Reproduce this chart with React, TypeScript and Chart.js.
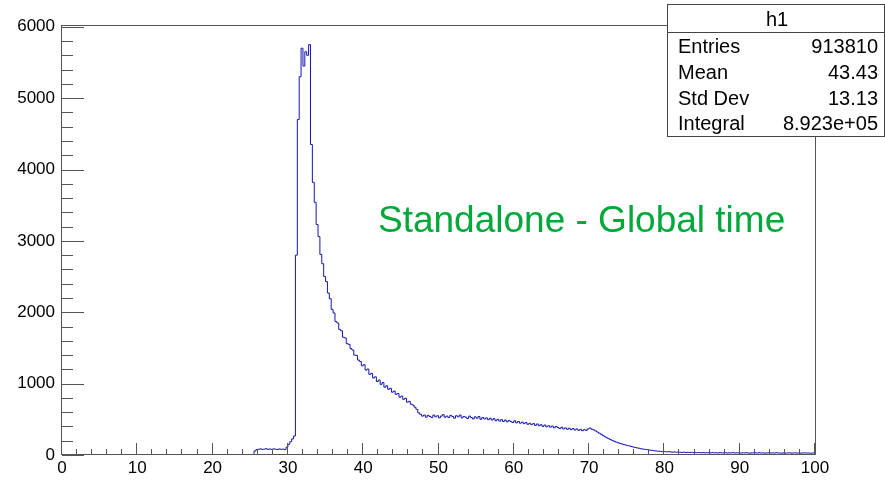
import React, { useEffect, useRef } from 'react';
import { Chart, registerables } from 'chart.js';

Chart.register(...registerables);

// ---------- data (bin width 0.25, each segment starts at given x) ----------
const BIN_WIDTH = 0.25;
const X_MIN = 0;
const X_MAX = 100;
const Y_MIN = 0;
const Y_MAX = 6025;

const xTickValues = [0, 10, 20, 30, 40, 50, 60, 70, 80, 90, 100];
const yTickValues = [0, 1000, 2000, 3000, 4000, 5000, 6000];

const riseStart = 25.5;
const riseCounts = [20, 55, 75, 80, 86, 78, 82, 88, 80, 84, 79, 86, 81, 77, 85, 80, 83, 76, 110, 150, 185, 225, 265];

const peakStart = 31.25;
const peakCounts = [2800, 4700, 5300, 5700, 5450, 5650, 5600, 5750];

const decayStart = 33.25;
const decayCounts = [
  4350, 3820, 3540, 3230, 3060, 2810, 2680,
  2500, 2430, 2270, 2190, 2040, 1990, 1870, 1850,
  1760, 1740, 1650, 1640, 1560, 1550, 1490, 1470,
  1400, 1395, 1330, 1310, 1250, 1265, 1190, 1205,
  1130, 1145, 1080, 1095, 1030, 1050, 990, 1015,
  950, 970, 920, 935, 880, 895, 850, 862,
  810, 825, 780, 795, 740, 752, 712, 700,
  670, 640, 590, 570,
];

const plateauStart = 48.0;
const plateauCounts = [
  545, 560, 530, 555, 540, 525, 560, 535,
  550, 520, 545, 565, 530, 545, 525, 555,
  540, 515, 550, 535, 560, 520, 540, 530,
  510, 545, 525, 505, 535, 515, 540, 500,
  525, 505, 520, 495, 515, 490, 510, 480,
  500, 475, 495, 470, 490, 465, 485, 470,
  455, 480, 450, 470, 445, 460, 440, 455,
  430, 445, 425, 440, 415, 435, 410, 425,
  400, 420, 395, 410, 390, 405, 380, 400,
  385, 370, 390, 365, 380, 360, 375, 355,
  370, 350, 365, 345, 360, 340, 355, 345,
];

const falloffStart = 70.0;
const falloffCounts = [
  365, 378, 362, 352, 338, 322, 305, 290,
  272, 255, 240, 228, 215, 202, 192, 180,
  172, 162, 155, 146, 140, 132, 128, 120,
  112, 106, 100, 95, 88, 84, 80, 76,
  72, 68, 64, 60, 57, 54, 52, 50,
];

const tailStart = 80.0;
const tailCounts = [
  48, 46, 44, 47, 42, 40, 43, 39,
  41, 38, 36, 40, 35, 37, 34, 38,
  33, 36, 32, 35, 31, 34, 30, 33,
  32, 29, 34, 30, 31, 28, 33, 29,
  30, 32, 27, 31, 29, 33, 28, 30,
  31, 27, 30, 29, 32, 28, 26, 30,
  29, 31, 27, 33, 28, 30, 26, 29,
  31, 28, 30, 27, 32, 29, 28, 26,
  30, 27, 29, 31, 26, 28, 30, 27,
  29, 26, 28, 30, 27, 29, 25, 28,
];

const segments = [
  { start: riseStart, counts: riseCounts },
  { start: peakStart, counts: peakCounts },
  { start: decayStart, counts: decayCounts },
  { start: plateauStart, counts: plateauCounts },
  { start: falloffStart, counts: falloffCounts },
  { start: tailStart, counts: tailCounts },
];

const statsTitle = 'h1';
const statsLabels = ['Entries', 'Mean', 'Std Dev', 'Integral'];
const statsValues = ['913810', '43.43', '13.13', '8.923e+05'];
const annotationText = 'Standalone - Global time';

const X_MAJOR = 10;
const X_MINOR = 2;
const Y_MAJOR = 1000;
const Y_MINOR = 200;

const FONT = '"Liberation Sans", Arial, Helvetica, sans-serif';
const LINE_COLOR = '#1414b4';
const AXIS_COLOR = '#555555';

function buildPoints() {
  const pts: { x: number; y: number }[] = [{ x: riseStart, y: 0 }];
  let last = 0;
  for (const seg of segments) {
    seg.counts.forEach((c, i) => {
      pts.push({ x: seg.start + i * BIN_WIDTH, y: c });
      last = c;
    });
  }
  pts.push({ x: X_MAX, y: last });
  return pts;
}

const rootPlugin = {
  id: 'rootDecor',
  afterDraw(chart: any) {
    const { ctx, chartArea } = chart;
    const xs = chart.scales.x;
    const ys = chart.scales.y;
    const { left, right, top, bottom } = chartArea;
    ctx.save();
    // frame
    ctx.strokeStyle = AXIS_COLOR;
    ctx.lineWidth = 1;
    ctx.strokeRect(Math.round(left) - 0.5, Math.round(top) + 0.5, Math.round(right - left) + 1, Math.round(bottom - top) - 1);
    // x ticks
    ctx.beginPath();
    for (let v = X_MIN; v <= X_MAX + 1e-9; v += X_MINOR) {
      const px = Math.round(xs.getPixelForValue(v)) - 0.5;
      const major = Math.abs(v / X_MAJOR - Math.round(v / X_MAJOR)) < 1e-6;
      const len = major ? 12 : 6;
      ctx.moveTo(px, bottom);
      ctx.lineTo(px, bottom - len);
    }
    // y ticks
    for (let v = Y_MIN; v <= Y_MAX + 1e-9; v += Y_MINOR) {
      const py = Math.round(ys.getPixelForValue(v)) + 0.5;
      const major = Math.abs(v / Y_MAJOR - Math.round(v / Y_MAJOR)) < 1e-6;
      const len = major ? 22 : 11;
      ctx.moveTo(left, py);
      ctx.lineTo(left + len, py);
    }
    ctx.stroke();

    // annotation text
    ctx.fillStyle = '#00a83a';
    ctx.font = `37px ${FONT}`;
    ctx.textAlign = 'left';
    ctx.textBaseline = 'alphabetic';
    ctx.fillText(annotationText, 378, 232);

    // stats box
    const bx = 667.5, by = 4.5, bw = 217, bh = 132;
    ctx.fillStyle = '#ffffff';
    ctx.fillRect(bx, by, bw, bh);
    ctx.strokeStyle = '#444444';
    ctx.strokeRect(bx, by, bw, bh);
    ctx.beginPath();
    ctx.moveTo(bx, 32.5);
    ctx.lineTo(bx + bw, 32.5);
    ctx.stroke();
    ctx.fillStyle = '#000000';
    ctx.font = `20px ${FONT}`;
    ctx.textAlign = 'center';
    ctx.fillText(statsTitle, 777, 26);
    const baselines = [53, 79, 105, 130];
    statsLabels.forEach((lab, i) => {
      ctx.textAlign = 'left';
      ctx.fillText(lab, 678, baselines[i]);
      ctx.textAlign = 'right';
      ctx.fillText(statsValues[i], 878, baselines[i]);
    });
    ctx.restore();
  },
};

export default function App() {
  const canvasRef = useRef<HTMLCanvasElement | null>(null);
  useEffect(() => {
    const canvas = canvasRef.current;
    if (!canvas) return;
    const chart = new Chart(canvas, {
      type: 'line',
      data: {
        datasets: [
          {
            data: buildPoints(),
            stepped: 'after',
            borderColor: LINE_COLOR,
            borderWidth: 1,
            pointRadius: 0,
            fill: false,
            tension: 0,
          },
        ],
      },
      options: {
        animation: false,
        responsive: false,
        maintainAspectRatio: false,
        parsing: false,
        normalized: true,
        events: [],
        layout: { padding: { top: 25, right: 70, bottom: 0, left: 0 } },
        plugins: { legend: { display: false }, tooltip: { enabled: false }, title: { display: false } },
        scales: {
          x: {
            type: 'linear',
            min: X_MIN,
            max: X_MAX,
            grid: { display: false, drawTicks: false },
            border: { display: false },
            ticks: {
              autoSkip: false,
              maxRotation: 0,
              padding: 3,
              color: '#000',
              font: { family: FONT, size: 17 },
              callback: (v: any) => String(v),
            },
            afterBuildTicks: (s: any) => { s.ticks = xTickValues.map((v) => ({ value: v })); },
            afterFit: (s: any) => { s.height = 25; },
          },
          y: {
            type: 'linear',
            min: Y_MIN,
            max: Y_MAX,
            grid: { display: false, drawTicks: false },
            border: { display: false },
            ticks: {
              autoSkip: false,
              padding: 7,
              color: '#000',
              font: { family: FONT, size: 17 },
              callback: (v: any) => String(v),
            },
            afterBuildTicks: (s: any) => { s.ticks = yTickValues.map((v) => ({ value: v })); },
            afterFit: (s: any) => { s.width = 62; },
          },
        },
      },
      plugins: [rootPlugin],
    });
    return () => chart.destroy();
  }, []);
  return (
    <div style={{ width: 885, height: 480, background: '#fff' }}>
      <style>{'body{margin:0;}'}</style>
      <canvas ref={canvasRef} width={885} height={480} style={{ width: 885, height: 480, display: 'block' }} />
    </div>
  );
}
